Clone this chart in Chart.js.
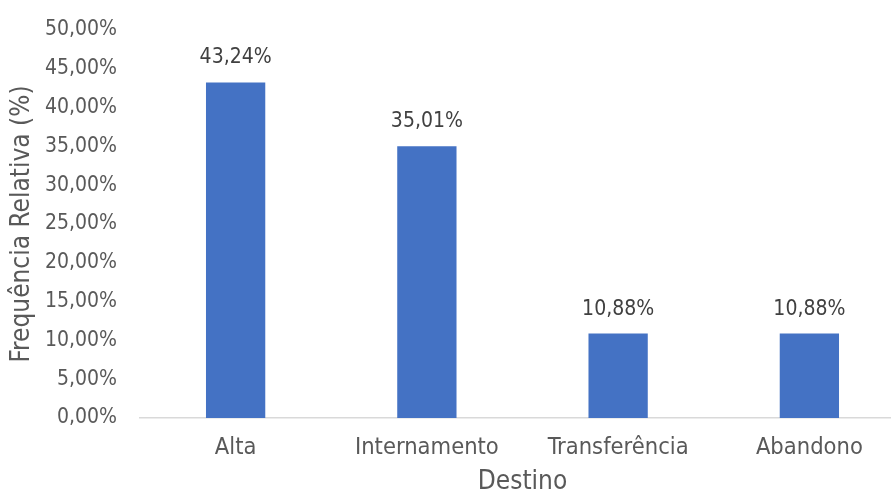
<!DOCTYPE html>
<html>
<head>
<meta charset="utf-8">
<script src="https://cdn.jsdelivr.net/npm/chart.js@4/dist/chart.umd.min.js"></script>
<style>
  html, body { margin: 0; padding: 0; background: #fff; overflow: hidden; }
  #wrap { width: 905px; height: 493px; position: relative; }
</style>
</head>
<body>
<div id="wrap"><canvas id="c"></canvas></div>
<script>
const categories = ['Alta', 'Internamento', 'Transferência', 'Abandono'];
const frequencias = [43.24, 35.01, 10.88, 10.88];
const yTicks = [0, 5, 10, 15, 20, 25, 30, 35, 40, 45, 50];

const FONT = '"DejaVu Sans Condensed", "DejaVu Sans", sans-serif';
const fmt = v => v.toFixed(2).replace('.', ',') + '%';

// value labels drawn above each bar
const valueLabels = {
  id: 'valueLabels',
  afterDatasetsDraw(chart) {
    const ctx = chart.ctx;
    const meta = chart.getDatasetMeta(0);
    ctx.save();
    ctx.font = '21px ' + FONT;
    ctx.fillStyle = '#404040';
    ctx.textAlign = 'center';
    ctx.textBaseline = 'bottom';
    meta.data.forEach((bar, i) => {
      ctx.fillText(fmt(frequencias[i]), bar.x, bar.y - 14);
    });
    ctx.restore();
  }
};

new Chart(document.getElementById('c'), {
  type: 'bar',
  data: {
    labels: categories,
    datasets: [{
      data: frequencias,
      backgroundColor: '#4472C4',
      borderWidth: 0,
      categoryPercentage: 1,
      barPercentage: 0.31
    }]
  },
  options: {
    responsive: true,
    maintainAspectRatio: false,
    animation: false,
    layout: { padding: { top: 30, left: 0, right: 0, bottom: 0 } },
    plugins: { legend: { display: false }, tooltip: { enabled: false } },
    scales: {
      x: {
        grid: { display: false, drawTicks: false },
        border: { display: true, color: '#d9d9d9', width: 1.5 },
        ticks: { color: '#595959', font: { family: FONT, size: 23.5 }, padding: 16 },
        title: { display: true, text: 'Destino', color: '#595959', font: { family: FONT, size: 26, lineHeight: 1 }, padding: { top: 0, bottom: -2 } },
        afterFit(s) { s.height = 75; }
      },
      y: {
        min: 0, max: 50,
        afterBuildTicks(s) { s.ticks = yTicks.map(v => ({ value: v })); },
        grid: { display: false, drawTicks: false },
        border: { display: false },
        ticks: { color: '#595959', font: { family: FONT, size: 21 }, padding: 23, callback: v => fmt(v) },
        title: { display: true, text: 'Frequência Relativa (%)', color: '#595959', font: { family: FONT, size: 26 }, padding: { top: 7, bottom: 0 } },
        afterFit(s) { s.width = 140; s.paddingTop = 0; }
      }
    }
  },
  plugins: [valueLabels]
});
</script>
</body>
</html>
